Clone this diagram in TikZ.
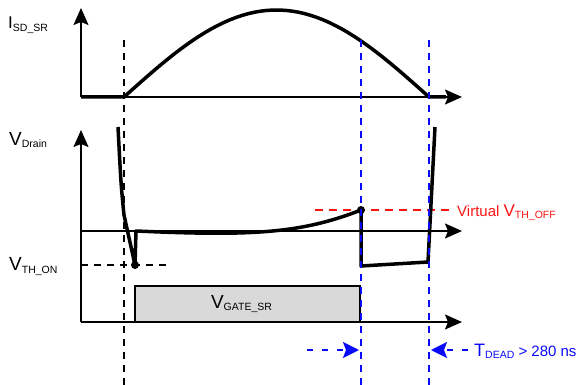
\documentclass[tikz,border=0pt]{standalone}
\usepackage{fontspec}
\setmainfont{Liberation Sans}
\usetikzlibrary{arrows.meta, positioning}
\definecolor{virtred}{RGB}{250,20,20}
\definecolor{deadblue}{RGB}{10,10,250}
\definecolor{gatefill}{RGB}{217,217,217}
\tikzset{
  axis/.style={line width=1.6pt, -{Stealth[length=17pt, width=15pt, inset=3pt]}},
  wave/.style={line width=3.5pt, line join=round},
  guide/.style={line width=2pt, dash pattern=on 7pt off 6pt},
  lbl/.style={font=\fontsize{15}{18}\selectfont, inner sep=0pt, anchor=base west},
  gatebox/.style={draw, fill=gatefill, line width=2pt, minimum width=225pt, minimum height=36pt, inner sep=0pt},
  deadarrow/.style={line width=2pt, color=deadblue, dash pattern=on 6pt off 9pt, -{Stealth[length=16pt, width=16pt, inset=3pt]}}
}
% big symbol with small lowered subscript
\newcommand{\sig}[3][19]{{\fontsize{#1}{22}\selectfont #2}\raisebox{-2pt}{\fontsize{10.5}{12}\selectfont #3}}

\begin{document}
\begin{tikzpicture}[x=1pt, y=-1pt]
  \useasboundingbox (0,0) rectangle (579,385);
  % axis origins and marked points
  \coordinate (otop) at (81,97);
  \coordinate (obot) at (81,322);
  \coordinate (von) at (135,265);
  \coordinate (voff) at (361,210);

  % labels
  \node [lbl] (isd) at (8,29) {\sig[17]{I}{\raisebox{-1pt}{SD\_SR}}};
  \node [lbl] (vdrain) at (9,146) {\sig{V}{Drain}};
  \node [lbl] (vthon) at (9,271) {\sig{V}{TH\_ON}};
  \node [lbl, text=virtred] (vthoff) at (457,217) {Virtual \sig[17]{V}{TH\_OFF}};
  \node [lbl, text=deadblue] (tdead) at (474,356) {\sig[18]{T}{DEAD} {>} 280 ns};

  % gate pulse
  \node [gatebox] (gate) at (247.5,304) {\raisebox{-5pt}{\sig{V}{GATE\_SR}}\hspace*{12pt}};

  % axes
  \draw [axis] (otop) -- (81,8);
  \draw [axis] (otop) -- (462,97);
  \draw [axis] (obot) -- (81,130);
  \draw [axis] (obot) -- (462,322);
  \draw [axis] (81,231) -- (462,231);

  % current waveform
  \draw [wave] (otop) -- (124,97)
    plot [domain=0:180, samples=50] ({124+1.6944*\x},{97-87*sin(\x)})
    -- (446,97);

  % threshold levels
  \draw [guide] (81,265) -- (170,265);
  \draw [guide, color=virtred, dash pattern=on 8pt off 6pt] (315,210) -- (454,210);

  % drain voltage waveform
  \draw [wave] (118,127) .. controls (121,185) .. (124,215) -- (von) -- (136,231)
    .. controls (250,236) and (300,234) .. (voff) -- (361,266) -- (428,262) -- (435,127);
  \fill (von) circle (4pt);
  \fill (voff) circle (4pt);

  % timing guides
  \draw [guide] (124,40) -- (124,385);
  \draw [guide, color=deadblue] (361,40) -- (361,385);
  \draw [guide, color=deadblue] (429,40) -- (429,385);

  % dead time arrows
  \draw [deadarrow] (307,350) -- (359,350);
  \draw [deadarrow] (468,350) -- (431,350);
\end{tikzpicture}
\end{document}
